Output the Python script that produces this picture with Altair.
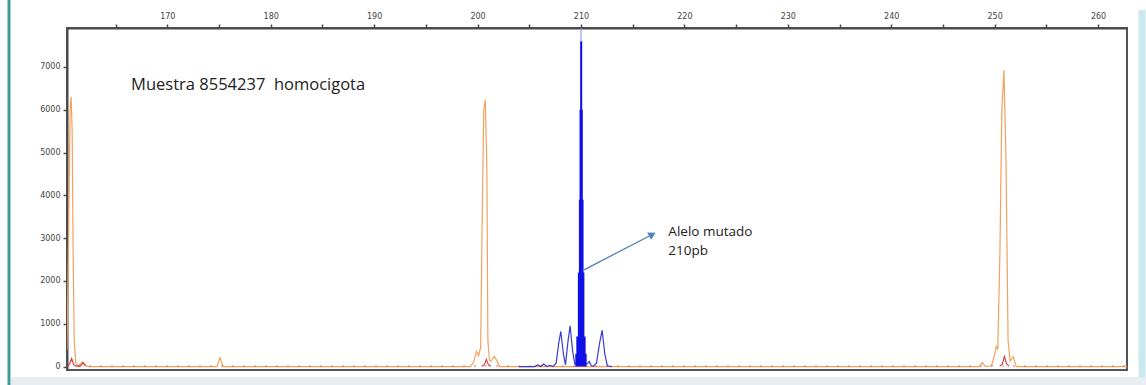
import altair as alt
import pandas as pd

# ---------------- data ----------------
x_domain = [160.3, 262.8]
y_domain = [-80, 7910]

x_tick_values = [165, 170, 175, 180, 185, 190, 195, 200, 205, 210, 215, 220, 225,
                 230, 235, 240, 245, 250, 255, 260]
y_tick_values = [0, 500, 1000, 1500, 2000, 2500, 3000, 3500, 4000, 4500, 5000,
                 5500, 6000, 6500, 7000, 7500]

orange_x = [160.3, 160.45, 160.6, 160.7, 160.8, 160.9, 161.0, 161.15, 161.4, 161.6,
            161.8, 162.0, 162.3, 174.8, 175.1, 175.4, 175.7, 199.3, 199.6, 199.9,
            200.1, 200.3, 200.45, 200.6, 200.75, 200.9, 201.0, 201.15, 201.3, 201.6,
            201.85, 202.1, 248.5, 248.8, 249.1, 249.7, 250.0, 250.15, 250.3, 250.5,
            250.7, 250.9, 251.1, 251.3, 251.5, 251.8, 252.1, 262.8]
orange_y = [400, 3000, 6000, 6300, 5500, 2500, 600, 80, 20, 60,
            110, 40, 0, 0, 210, 0, 0, 0, 100, 350,
            250, 450, 3500, 6000, 6230, 4600, 600, 150, 130, 240,
            150, 0, 0, 100, 0, 20, 270, 470, 400, 2500,
            6000, 6930, 4800, 600, 130, 230, 0, 0]

# red trace: small peaks (solid) and scattered baseline noise (dashed)
red_seg = [1, 1, 1, 1, 1, 1, 1, 1, 2, 2, 2, 2, 2, 3, 3, 3, 3, 3]
red_x = [160.4, 160.55, 160.75, 160.95, 161.2, 161.6, 161.85, 162.1,
         200.4, 200.65, 200.85, 201.05, 201.3,
         250.5, 250.75, 250.95, 251.15, 251.4]
red_y = [10, 60, 190, 40, 10, 10, 90, 10,
         10, 40, 170, 40, 10,
         10, 60, 240, 60, 10]
red_noise_x = [160.3, 262.8]
red_noise_y = [12, 12]

blue_x = [204.0, 205.5, 205.8, 206.1, 206.4, 206.7, 207.0, 207.3, 207.6, 207.85,
          208.05, 208.3, 208.5, 208.75, 208.95, 209.2, 209.4, 210.6, 210.8, 211.0,
          211.2, 211.5, 211.8, 212.05, 212.3, 212.55, 213.0]
blue_y = [0, 0, 40, 0, 60, 0, 30, 0, 80, 550,
          820, 300, 40, 600, 950, 350, 60, 60, 120, 20,
          10, 80, 550, 850, 300, 20, 0]

core_x = [209.45, 209.55, 209.7, 209.8, 209.86, 209.92, 210.12, 210.18, 210.25,
          210.33, 210.45, 210.55]
core_y = [300, 700, 2200, 3900, 6000, 7600, 6000, 3900, 2200, 700, 300, 0]

marker_x = [210]
marker_y = [7600]

arrow_x = [210.16, 216.8]
arrow_y = [2243, 3075]
head_x = [216.8]
head_y = [3075]

title_text = ["Muestra 8554237\u00a0\u00a0homocigota"]
title_x = [166.5]
title_y = [6470]

note_lines = ["Alelo mutado", "210pb"]
note_x = [218.45, 218.45]
note_y = [3050, 2600]

# ---------------- chart ----------------
W, H = 1060, 342

xs = alt.Scale(domain=x_domain, nice=False, zero=False)
ys = alt.Scale(domain=y_domain, nice=False, zero=False)

x_axis = alt.Axis(orient="top", values=x_tick_values, title=None, grid=False,
                  labelExpr="datum.value % 10 == 0 ? datum.label : ''",
                  domainColor="#4a4a4a", domainWidth=2, tickColor="#4a4a4a",
                  tickSize=4, tickWidth=1.5, labelFontSize=8, labelColor="#444",
                  labelFont="DejaVu Sans", labelPadding=4)
y_axis = alt.Axis(values=y_tick_values, title=None, grid=False,
                  labelExpr="datum.value % 1000 == 0 ? datum.label : ''",
                  format="d",
                  domainColor="#4a4a4a", domainWidth=2, tickColor="#4a4a4a",
                  tickSize=4, tickWidth=1.5, labelFontSize=8, labelColor="#444",
                  labelFont="DejaVu Sans", labelPadding=3)

orange_df = pd.DataFrame({"x": orange_x, "y": orange_y})
red_df = pd.DataFrame({"x": red_x, "y": red_y, "seg": red_seg})
red_noise_df = pd.DataFrame({"x": red_noise_x, "y": red_noise_y})
blue_df = pd.DataFrame({"x": blue_x, "y": blue_y})
core_df = pd.DataFrame({"x": core_x, "y": core_y})

base_orange = alt.Chart(orange_df).mark_line(color="#f2a25c", strokeWidth=1.2, clip=True).encode(
    x=alt.X("x:Q", scale=xs, axis=x_axis),
    y=alt.Y("y:Q", scale=ys, axis=y_axis),
)

red_noise = alt.Chart(red_noise_df).mark_line(
    color="#d85050", strokeWidth=1, strokeDash=[2, 9], opacity=0.8, clip=True).encode(
    x=alt.X("x:Q", scale=xs), y=alt.Y("y:Q", scale=ys))

red = alt.Chart(red_df).mark_line(color="#d23a3a", strokeWidth=1.1, clip=True).encode(
    x=alt.X("x:Q", scale=xs), y=alt.Y("y:Q", scale=ys), detail="seg:N")

blue = alt.Chart(blue_df).mark_line(color="#3a3ad8", strokeWidth=1.2, clip=True).encode(
    x=alt.X("x:Q", scale=xs), y=alt.Y("y:Q", scale=ys))

core = alt.Chart(core_df).mark_area(color="#1010e6", interpolate="step-after",
                                    opacity=1, clip=True).encode(
    x=alt.X("x:Q", scale=xs), y=alt.Y("y:Q", scale=ys), y2=alt.datum(0))

marker = alt.Chart(pd.DataFrame({"x": marker_x, "y": marker_y})).mark_rule(
    color="#7f86f0", strokeWidth=1).encode(
    x=alt.X("x:Q", scale=xs), y=alt.Y("y:Q", scale=ys), y2=alt.value(0))

arrow_df = pd.DataFrame({"x": [arrow_x[0]], "y": [arrow_y[0]],
                         "x2": [arrow_x[1]], "y2": [arrow_y[1]]})
arrow = alt.Chart(arrow_df).mark_rule(color="#4f81bd", strokeWidth=1.3).encode(
    x=alt.X("x:Q", scale=xs), y=alt.Y("y:Q", scale=ys), x2="x2:Q", y2="y2:Q")

head = alt.Chart(pd.DataFrame({"x": head_x, "y": head_y})).mark_point(
    shape="triangle", angle=62, size=70, filled=True, color="#4f81bd", opacity=1).encode(
    x=alt.X("x:Q", scale=xs), y=alt.Y("y:Q", scale=ys))

title = alt.Chart(pd.DataFrame({"x": title_x, "y": title_y, "t": title_text})).mark_text(
    align="left", baseline="alphabetic", font="Open Sans", fontSize=16.5, color="#222").encode(
    x=alt.X("x:Q", scale=xs), y=alt.Y("y:Q", scale=ys), text="t:N")

note = alt.Chart(pd.DataFrame({"x": note_x, "y": note_y, "t": note_lines})).mark_text(
    align="left", baseline="alphabetic", font="Open Sans", fontSize=13.5, color="#222").encode(
    x=alt.X("x:Q", scale=xs), y=alt.Y("y:Q", scale=ys), text="t:N")

# window decoration around the screenshot
left_border = alt.Chart(pd.DataFrame({"k": [0]})).mark_rule(color="#3f9c9a", strokeWidth=3).encode(
    x=alt.value(-58), y=alt.value(-28), y2=alt.value(357))
right_border = alt.Chart(pd.DataFrame({"k": [0]})).mark_rule(color="#c9e9ee", strokeWidth=7).encode(
    x=alt.value(1075), y=alt.value(-18), y2=alt.value(349))
bottom_strip = alt.Chart(pd.DataFrame({"k": [0]})).mark_rule(color="#e8edf2", strokeWidth=8).encode(
    x=alt.value(-56), x2=alt.value(1079), y=alt.value(353))

chart = alt.layer(
    left_border, right_border, bottom_strip,
    base_orange, red_noise, red, blue, core, marker, arrow, head, title, note
).properties(
    width=W, height=H,
    autosize=alt.AutoSizeParams(type="none"),
    padding={"left": 67, "top": 28, "right": 19, "bottom": 15},
    background="white",
).configure_view(stroke="#555", strokeWidth=2)

chart.save("out.html", embed_options={"renderer": "svg", "actions": False})
